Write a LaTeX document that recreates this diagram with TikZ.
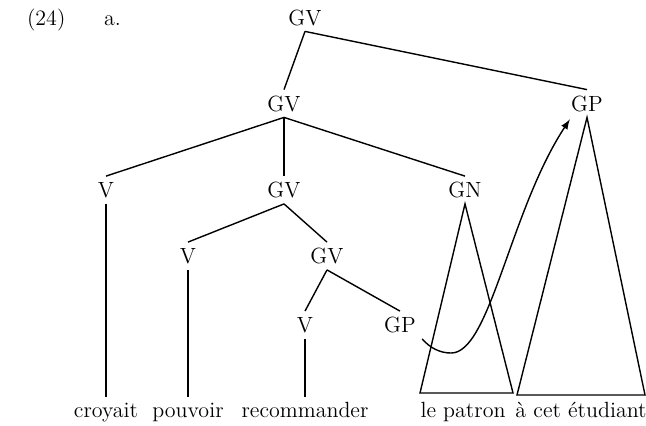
\documentclass[tikz,border=0pt]{standalone}
\usepackage{tikz}
\usetikzlibrary{positioning,arrows}

\tikzset{
  cat/.style = {inner sep = 3pt, text height = 7.5pt, text depth = 0pt},
  word/.style = {inner sep = 2pt, text height = 7.6pt, text depth = 2.2pt, anchor = base},
  branch/.style = {line width = 0.7pt}
}

\begin{document}
\begin{tikzpicture}[x = 0.5pt, y = -0.5pt, font = \fontsize{11}{13}\selectfont]
\useasboundingbox (0,0) rectangle (646,425);

\node[anchor = base west] (num) at (20,25) {(24)};
\node[anchor = base west] (sub) at (97,25) {a.};

% categories
\node[cat] (gv1) at (305,17.5) {GV};
\node[cat] (gv2) at (284,103.5) {GV};
\node[cat] (gpr) at (587,103.5) {GP};
\node[cat] (v1) at (106,190) {V};
\node[cat] (gv3) at (284,190) {GV};
\node[cat] (gn) at (465,190) {GN};
\node[cat] (v2) at (188,256) {V};
\node[cat] (gv4) at (327,256) {GV};
\node[cat] (v3) at (305,325) {V};
\node[cat] (gpl) at (400,325) {GP};

% words
\node[word] (croyait) at (106,417) {croyait};
\node[word] (pouvoir) at (188,417) {pouvoir};
\node[word] (recommander) at (305,417) {recommander};
\node[word] (patron) at (463,417) {le patron};
\node[word] (etudiant) at (581,417) {à cet étudiant};

\draw[branch] (gv1.south) -- (gv2.north);
\draw[branch] (gv1.south) -- (gpr.north);
\draw[branch] (gv2.south) -- (v1.north);
\draw[branch] (gv2.south) -- (gv3.north);
\draw[branch] (gv2.south) -- (gn.north);
\draw[branch] (gv3.south) -- (v2.north);
\draw[branch] (gv3.south) -- (gv4.north);
\draw[branch] (gv4.south) -- (v3.north);
\draw[branch] (gv4.south) -- (gpl.north);

\draw[branch] (v1.south) -- (croyait.north);
\draw[branch] (v2.south) -- (pouvoir.north);
\draw[branch] (v3.south) -- (recommander.north);

\coordinate (gnl) at (420,393);
\coordinate (gnr) at (513,393);
\coordinate (gpbl) at (517,395);
\coordinate (gpbr) at (645,395);
\draw[branch] (gn.south) -- (gnl) -- (gnr) -- cycle;
\draw[branch] (gpr.south) -- (gpbl) -- (gpbr) -- cycle;

% movement
\coordinate (low) at (451,353);
\draw[branch, -latex] (gpl.south east) .. controls (430,348) and (440,353) .. (low)
  .. controls (490,353.5) and (510,210) .. ([xshift = 2.5pt, yshift = -1pt]gpr.south west);

\end{tikzpicture}
\end{document}
